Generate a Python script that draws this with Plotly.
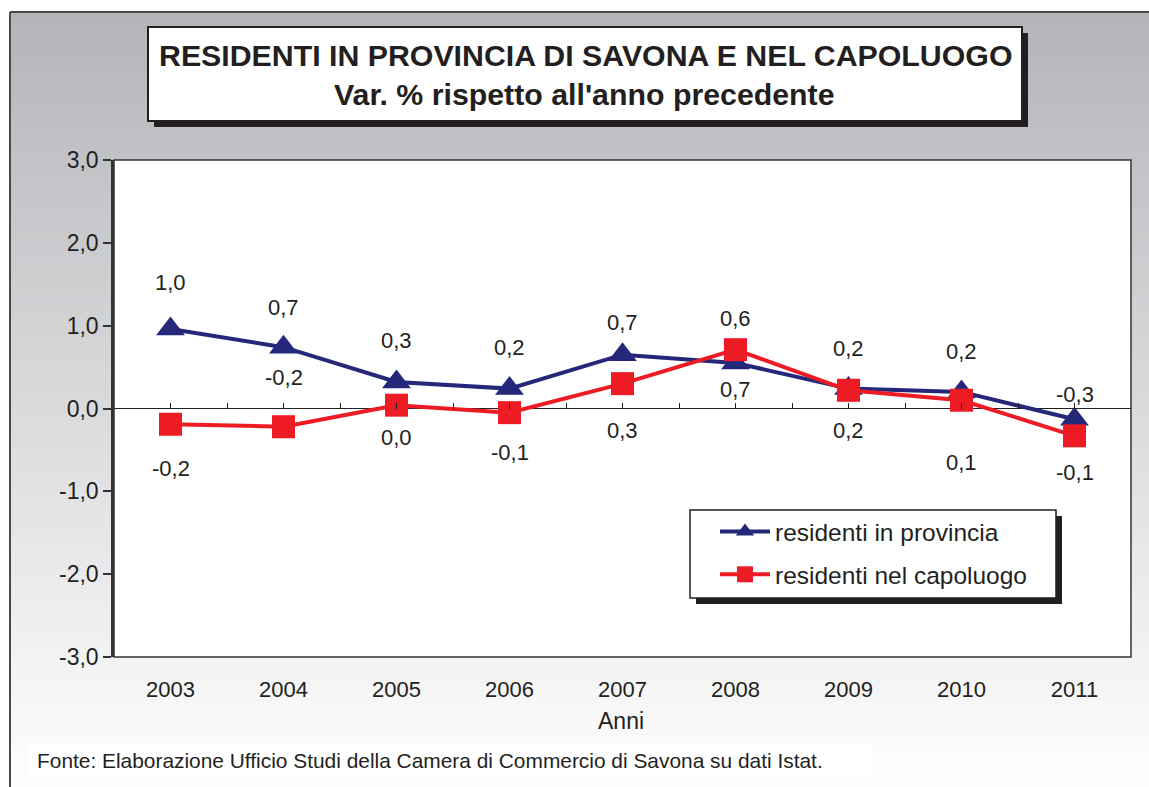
import plotly.graph_objects as go

# ---------------- data ----------------
years = ["2003", "2004", "2005", "2006", "2007", "2008", "2009", "2010", "2011"]
provincia = [0.96, 0.74, 0.32, 0.24, 0.65, 0.55, 0.24, 0.20, -0.13]
capoluogo = [-0.19, -0.22, 0.04, -0.05, 0.30, 0.71, 0.22, 0.10, -0.33]
provincia_labels = ["1,0", "0,7", "0,3", "0,2", "0,7", "0,6", "0,2", "0,2", "-0,3"]
capoluogo_labels = ["-0,2", "-0,2", "0,0", "-0,1", "0,3", "0,7", "0,2", "0,1", "-0,1"]
y_tickvals = [-3, -2, -1, 0, 1, 2, 3]
y_ticktext = ["-3,0", "-2,0", "-1,0", "0,0", "1,0", "2,0", "3,0"]

series_names = ["residenti in provincia", "residenti nel capoluogo"]
title_line1 = "RESIDENTI IN PROVINCIA DI SAVONA E NEL CAPOLUOGO"
title_line2 = "Var. % rispetto all'anno precedente"
x_title = "Anni"
source_text = "Fonte: Elaborazione Ufficio Studi della Camera di Commercio di Savona su dati Istat."

# ---------------- layout / style ----------------
W, H = 1149, 787
L, R, T, B = 114, 18, 160, 130
PW, PH = W - L - R, H - T - B
provincia_label_shift = [46, 40, 41, 41, 32, 44, 40, 40, 25]
capoluogo_label_shift = [-44, 49, -32, -40, -47, -40, -40, -62, -37]

NAVY = "#25287a"
RED = "#ed1c24"
INK = "#231f20"
FONT = "Arial, Liberation Sans, Helvetica, sans-serif"


def px_x(x):
    return (x - L) / PW


def px_y(y):
    return (H - B - y) / PH


shapes = []
# gradient background bands
top_y, bot_y = 12, 787
n = 90
c0 = (180, 181, 185)
c1 = (254, 254, 254)
for i in range(n):
    f = i / (n - 1)
    col = tuple(round(c0[k] + (c1[k] - c0[k]) * f) for k in range(3))
    y0 = top_y + (bot_y - top_y) * i / n
    y1 = top_y + (bot_y - top_y) * (i + 1) / n + 0.6
    shapes.append(dict(type="rect", xref="paper", yref="paper",
                       x0=px_x(10), x1=px_x(W + 2), y0=px_y(y1), y1=px_y(y0),
                       fillcolor="rgb(%d,%d,%d)" % col, line=dict(width=0), layer="below"))
# frame lines
shapes.append(dict(type="line", xref="paper", yref="paper", x0=px_x(10), x1=px_x(10),
                   y0=px_y(12), y1=px_y(H + 2), line=dict(color="#4a4a4c", width=2), layer="below"))
shapes.append(dict(type="line", xref="paper", yref="paper", x0=px_x(10), x1=px_x(W + 2),
                   y0=px_y(12), y1=px_y(12), line=dict(color="#4a4a4c", width=2), layer="below"))
# footer white band
shapes.append(dict(type="rect", xref="paper", yref="paper", x0=px_x(28), x1=px_x(872),
                   y0=px_y(776), y1=px_y(744), fillcolor="white", line=dict(width=0), layer="below"))
# plot area white
shapes.append(dict(type="rect", xref="paper", yref="paper", x0=0, x1=1, y0=0, y1=1,
                   fillcolor="white", line=dict(width=0), layer="below"))
# title box with shadow
shapes.append(dict(type="rect", xref="paper", yref="paper", x0=px_x(154), x1=px_x(1028),
                   y0=px_y(127), y1=px_y(33), fillcolor=INK, line=dict(width=0), layer="below"))
shapes.append(dict(type="rect", xref="paper", yref="paper", x0=px_x(148), x1=px_x(1022),
                   y0=px_y(121), y1=px_y(27), fillcolor="white",
                   line=dict(color=INK, width=2), layer="below"))
# legend box with shadow
shapes.append(dict(type="rect", xref="paper", yref="paper", x0=px_x(696), x1=px_x(1062),
                   y0=px_y(604), y1=px_y(516), fillcolor=INK, line=dict(width=0), layer="below"))
shapes.append(dict(type="rect", xref="paper", yref="paper", x0=px_x(690), x1=px_x(1056),
                   y0=px_y(598), y1=px_y(510), fillcolor="white",
                   line=dict(color=INK, width=1.5), layer="below"))
# plot border
shapes.append(dict(type="rect", xref="paper", yref="paper", x0=0, x1=1, y0=0, y1=1,
                   line=dict(color="#333333", width=1.5), layer="above"))

fig = go.Figure()
fig.add_trace(go.Scatter(x=years, y=provincia, name=series_names[0], mode="lines+markers",
                         line=dict(color=NAVY, width=4),
                         marker=dict(symbol="triangle-up", size=25, color=NAVY),
                         legendgroup="a"))
fig.add_trace(go.Scatter(x=years, y=capoluogo, name=series_names[1], mode="lines+markers",
                         line=dict(color=RED, width=4),
                         marker=dict(symbol="square", size=23, color=RED),
                         legendgroup="b"))
# helper trace to carry the zero-line tick axis
fig.add_trace(go.Scatter(x=[0, len(years) - 1], y=[0, 0], xaxis="x2", mode="lines",
                         line=dict(width=0, color="rgba(0,0,0,0)"), showlegend=False,
                         hoverinfo="skip"))

annotations = []
for i, (v, t, s) in enumerate(zip(provincia, provincia_labels, provincia_label_shift)):
    annotations.append(dict(x=i, y=v, text=t, showarrow=False, yshift=s,
                            xanchor="center", yanchor="middle",
                            font=dict(size=22, color=INK, family=FONT)))
for i, (v, t, s) in enumerate(zip(capoluogo, capoluogo_labels, capoluogo_label_shift)):
    annotations.append(dict(x=i, y=v, text=t, showarrow=False, yshift=s,
                            xanchor="center", yanchor="middle",
                            font=dict(size=22, color=INK, family=FONT)))
annotations.append(dict(xref="paper", yref="paper", x=px_x(585), y=px_y(55), text="<b>%s</b>" % title_line1,
                        xanchor="center", yanchor="middle",
                        showarrow=False, font=dict(size=30.3, color=INK, family=FONT)))
annotations.append(dict(xref="paper", yref="paper", x=px_x(584), y=px_y(95), text="<b>%s</b>" % title_line2,
                        xanchor="center", yanchor="middle",
                        showarrow=False, font=dict(size=30.3, color=INK, family=FONT)))
annotations.append(dict(xref="paper", yref="paper", x=px_x(621), y=px_y(721), text=x_title,
                        xanchor="center", yanchor="middle",
                        showarrow=False, font=dict(size=23, color=INK, family=FONT)))
annotations.append(dict(xref="paper", yref="paper", x=px_x(35), y=px_y(760), text=source_text,
                        xanchor="left", yanchor="middle",
                        showarrow=False, font=dict(size=20.9, color=INK, family=FONT)))

fig.update_layout(
    width=W, height=H,
    margin=dict(l=L, r=R, t=T, b=B, pad=0),
    paper_bgcolor="white",
    plot_bgcolor="rgba(0,0,0,0)",
    font=dict(family=FONT, color=INK),
    showlegend=True,
    legend=dict(x=px_x(715), y=px_y(509), xanchor="left", yanchor="top",
                bgcolor="rgba(0,0,0,0)", borderwidth=0, tracegroupgap=8,
                font=dict(size=24.5, color=INK, family=FONT), itemwidth=50),
    shapes=shapes,
    annotations=annotations,
    xaxis=dict(type="category", range=[-0.5, len(years) - 0.5],
               showgrid=False, zeroline=False, showline=False,
               ticks="outside", ticklen=13, tickcolor="rgba(0,0,0,0)",
               tickfont=dict(size=22, color=INK, family=FONT), fixedrange=True),
    xaxis2=dict(overlaying="x", anchor="free", position=0.5, range=[-0.5, len(years) - 0.5],
                tick0=0, dtick=0.5, ticks="inside", ticklen=6, tickwidth=1, tickcolor="#222222",
                showticklabels=False, showgrid=False, zeroline=False, showline=False, side="bottom"),
    yaxis=dict(range=[-3, 3], tickvals=y_tickvals, ticktext=y_ticktext,
               showgrid=False, zeroline=True, zerolinecolor="#222222", zerolinewidth=1.2,
               showline=True, linecolor="#333333", linewidth=2.5,
               ticks="outside", ticklen=8, tickwidth=2, tickcolor="#333333",
               tickfont=dict(size=23, color=INK, family=FONT)),
)

fig.write_html("out.html", config={"displayModeBar": False},
               post_script="document.body.style.margin='0';")
